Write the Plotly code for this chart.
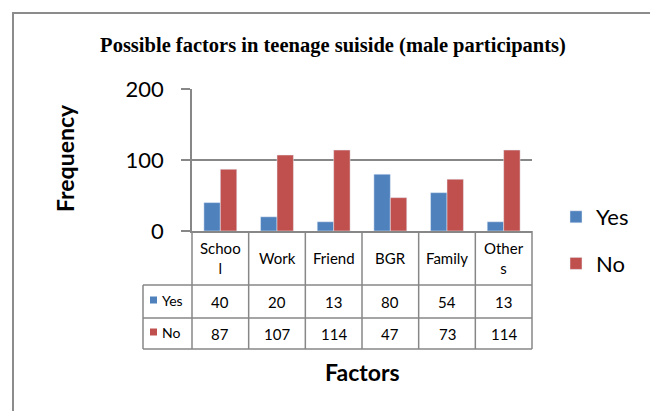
import plotly.graph_objects as go

# data
factors = ["School", "Work", "Friend", "BGR", "Family", "Others"]
header_labels = ["Schoo<br>l", "Work", "Friend", "BGR", "Family", "Other<br>s"]
yes_counts = [40, 20, 13, 80, 54, 13]
no_counts = [87, 107, 114, 47, 73, 114]
y_ticks = [0, 100, 200]

BLUE = "#4F81BD"
RED = "#C0504D"
GRID = "#878787"
FONT = "Lato, Liberation Sans, sans-serif"

# page body adds an 8px margin, so the figure is shrunk by that much
OFF = 8
W, H = 658 - OFF, 411 - OFF
L, R, T, B = 192, 532, 89, 231  # plot area in reference pixels


def px(x):
    return (x - L) / (R - L)


def py(y):
    return (B - y) / (B - T)


def label(text, x, y, size=15, xanchor="center", xref="paper", angle=0):
    fig.add_annotation(x=x, xref=xref, y=py(y), yref="paper", text=text,
                       xanchor=xanchor, yanchor="middle", textangle=angle,
                       showarrow=False, font=dict(size=size, color="black", family=FONT))


fig = go.Figure()
fig.add_trace(go.Bar(x=factors, y=yes_counts, name="Yes", marker=dict(color=BLUE),
                     legendgroup="yes"))
fig.add_trace(go.Bar(x=factors, y=no_counts, name="No", marker=dict(color=RED),
                     legendgroup="no"))

# outer chart frame
fig.add_shape(type="rect", xref="paper", yref="paper",
              x0=px(13), x1=px(655), y0=py(430), y1=py(13),
              line=dict(color="#8c8c8c", width=2), layer="below")

# data table grid
for yy in [285, 318, 349]:
    fig.add_shape(type="line", xref="paper", yref="paper",
                  x0=px(143), x1=px(R), y0=py(yy), y1=py(yy),
                  line=dict(color=GRID, width=1.5))
col_w = (R - L) / len(factors)
for i in range(len(factors) + 1):
    xx = L + i * col_w
    fig.add_shape(type="line", xref="paper", yref="paper",
                  x0=px(xx), x1=px(xx), y0=py(B), y1=py(349),
                  line=dict(color=GRID, width=1.5))
fig.add_shape(type="line", xref="paper", yref="paper",
              x0=px(143), x1=px(143), y0=py(285), y1=py(349),
              line=dict(color=GRID, width=1.5))

# header row: category names
for f, lab in zip(factors, header_labels):
    label(lab, f, 258, xref="x")

# value rows
for vals, yy in [(yes_counts, 301.5), (no_counts, 333.5)]:
    for f, v in zip(factors, vals):
        label(str(v), f, yy, xref="x")

# legend keys inside the table
for name, col, yy in [("Yes", BLUE, 300), ("No", RED, 332)]:
    fig.add_shape(type="rect", xref="paper", yref="paper",
                  x0=px(150), x1=px(157), y0=py(yy + 3.5), y1=py(yy - 3.5),
                  fillcolor=col, line=dict(width=0))
    label(name, px(160), yy, size=14, xanchor="left")

# axis titles
label("<b>Frequency</b>", px(65), 158, size=23, angle=-90)
label("<b>Factors</b>", px(362), 372, size=23)

fig.update_layout(
    width=W, height=H,
    margin=dict(l=L - OFF, r=W - (R - OFF), t=T - OFF, b=H - (B - OFF)),
    paper_bgcolor="white", plot_bgcolor="white",
    barmode="group", bargap=0.42, bargroupgap=0,
    title=dict(text="<b>Possible factors in teenage suiside (male participants)</b>",
               xref="paper", x=px(333), xanchor="center",
               y=1 - (45 - OFF) / H, yanchor="middle",
               font=dict(family="Liberation Serif, Times New Roman, serif", size=20.5,
                         color="black")),
    legend=dict(x=px(556), y=py(196), xanchor="left", yanchor="top",
                font=dict(size=22, family=FONT, color="black"),
                tracegroupgap=15, traceorder="grouped", itemwidth=30,
                bgcolor="rgba(0,0,0,0)"),
    xaxis=dict(showticklabels=False, showline=True, linecolor=GRID, linewidth=1.5,
               showgrid=False, ticks=""),
    yaxis=dict(range=[0, 200], tickvals=y_ticks, showgrid=True, gridcolor=GRID,
               gridwidth=1.5, showline=True, linecolor=GRID, linewidth=1.5,
               ticks="outside", ticklen=9, tickcolor=GRID, tickwidth=1.5,
               ticklabelstandoff=13, zeroline=False,
               tickfont=dict(size=22, family=FONT, color="black")),
)

fig.write_html("out.html")
